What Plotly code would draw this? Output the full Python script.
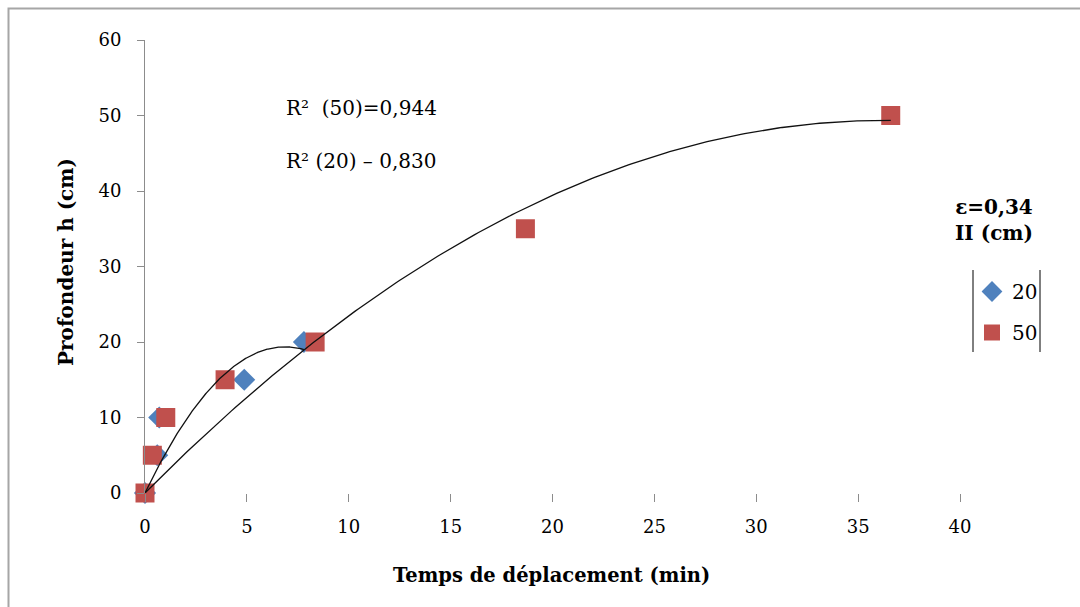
import numpy as np
import plotly.graph_objects as go

# Measured points: travel time (min) vs depth h (cm), for two series
x_20 = [0.0, 0.6, 0.7, 4.87, 7.8]
y_20 = [0, 5, 10, 15, 20]
x_50 = [0.0, 0.36, 1.02, 3.93, 8.35, 18.67, 36.6]
y_50 = [0, 5, 10, 15, 20, 35, 50]

series_names = ["20", "50"]
r2_labels = ["R\u00b2  (50)=0,944", "R\u00b2 (20) \u2013 0,830"]
legend_title = ["\u03b5=0,34", "II (cm)"]
x_ticks = [0, 5, 10, 15, 20, 25, 30, 35, 40]
y_ticks = [0, 10, 20, 30, 40, 50, 60]

BLUE = "#4F81BD"
RED = "#C0504D"
AXIS_GREY = "#8C8C8C"
SERIF = "DejaVu Serif"


def quad_through_origin(xs, ys):
    """Least-squares y = a*x + b*x^2 (intercept fixed at 0), sampled on [0, max x]."""
    xs = np.asarray(xs, float)
    ys = np.asarray(ys, float)
    A = np.column_stack([xs, xs ** 2])
    (a, b), *_ = np.linalg.lstsq(A, ys, rcond=None)
    xf = np.linspace(0, xs.max(), 200)
    return xf, a * xf + b * xf ** 2


fig = go.Figure()

fig.add_trace(go.Scatter(
    x=x_20, y=y_20, mode="markers", name=series_names[0],
    marker=dict(symbol="diamond", size=17, color=BLUE),
    legendgroup="a", cliponaxis=False,
))
fig.add_trace(go.Scatter(
    x=x_50, y=y_50, mode="markers", name=series_names[1],
    marker=dict(symbol="square", size=19, color=RED),
    legendgroup="b", cliponaxis=False,
))

for xs, ys in [(x_20, y_20), (x_50, y_50)]:
    xf, yf = quad_through_origin(xs, ys)
    fig.add_trace(go.Scatter(
        x=xf, y=yf, mode="lines", showlegend=False, hoverinfo="skip",
        line=dict(color="#111111", width=1.3), cliponaxis=False,
    ))

# plot area: x 145..960 px, y 40..493 px
L, R, T, B = 145, 120, 40, 114
W, H = 1080, 607
pw, ph = W - L - R, H - T - B


def px(xp):
    return (xp - L) / pw


def py(yp):
    return (H - B - yp) / ph


def note(text, xp, yp, size=19, xanchor="center", **kw):
    return dict(text=text, x=px(xp), y=py(yp), xref="paper", yref="paper",
                xanchor=xanchor, yanchor="middle", showarrow=False,
                font=dict(family=SERIF, size=size, color="#000"), **kw)


annotations = [
    note(r2_labels[0], 284, 108, size=20, xanchor="left"),
    note(r2_labels[1], 284, 161, size=20, xanchor="left"),
    note("<b>" + legend_title[0] + "</b><br><b>" + legend_title[1] + "</b>",
         994, 220, size=20, align="center"),
    note("<b>Temps de déplacement (min)</b>", 551, 575, size=19.5),
    note("<b>Profondeur h (cm)</b>", 66, 262, size=20, textangle=-90),
]

shapes = [
    # outer chart frame (top and left edges visible)
    dict(type="rect", xref="paper", yref="paper",
         x0=px(8.5), y0=py(700), x1=px(1200), y1=py(8.5),
         line=dict(color="#A6A6A6", width=2)),
    # legend side bars
    dict(type="line", xref="paper", yref="paper",
         x0=px(973), x1=px(973), y0=py(270), y1=py(352),
         line=dict(color="#000", width=1)),
    dict(type="line", xref="paper", yref="paper",
         x0=px(1040), x1=px(1040), y0=py(270), y1=py(352),
         line=dict(color="#000", width=1)),
]

fig.update_layout(
    width=W, height=H,
    margin=dict(l=L, r=R, t=T, b=B),
    paper_bgcolor="white", plot_bgcolor="white",
    showlegend=True,
    legend=dict(x=px(972), y=py(272), xanchor="left", yanchor="top",
                font=dict(family=SERIF, size=20, color="#000"),
                itemwidth=30, tracegroupgap=12, bgcolor="rgba(0,0,0,0)"),
    annotations=annotations,
    shapes=shapes,
    xaxis=dict(range=[0, 40], tickvals=x_ticks, showline=False, showgrid=False,
               zeroline=False, ticks="outside", ticklen=8, tickcolor=AXIS_GREY,
               ticklabelstandoff=9,
               tickfont=dict(family=SERIF, size=18, color="#000")),
    yaxis=dict(range=[0, 60], tickvals=y_ticks, showline=True, linecolor=AXIS_GREY,
               showgrid=False, zeroline=False, ticks="outside", ticklen=7,
               tickcolor=AXIS_GREY, ticklabelstandoff=12,
               tickfont=dict(family=SERIF, size=18, color="#000")),
)

fig.write_html("out.html")
